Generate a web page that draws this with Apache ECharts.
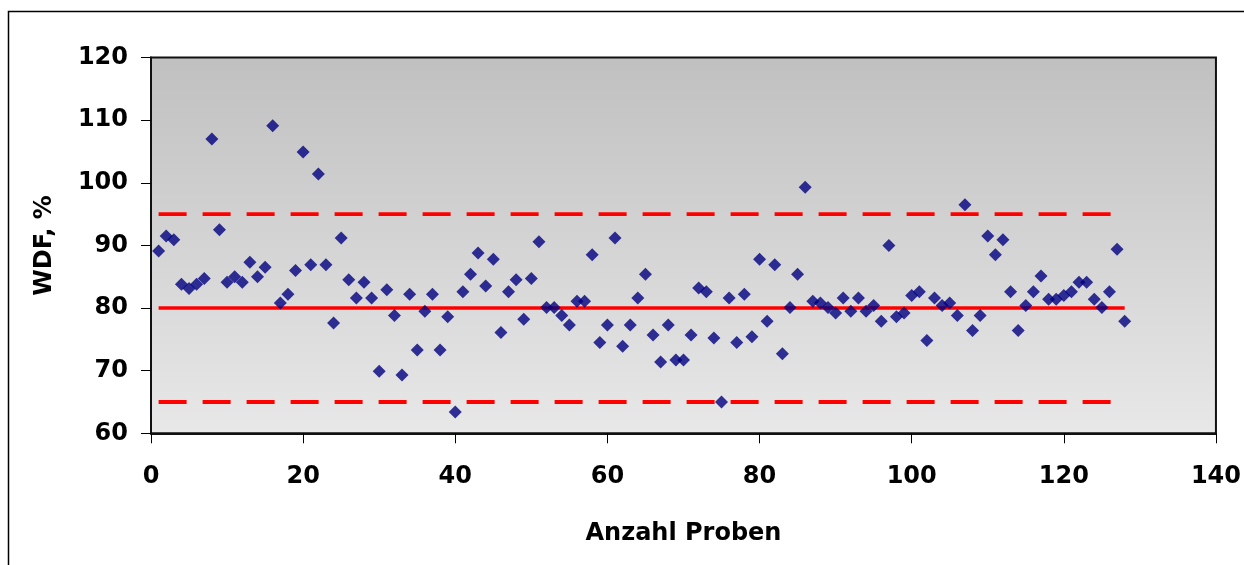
<!DOCTYPE html>
<html>
<head>
<meta charset="utf-8">
<script src="https://cdn.jsdelivr.net/npm/echarts@6/dist/echarts.min.js"></script>
<style>
html,body{margin:0;padding:0;background:#fff;overflow:hidden;}
#chart{width:1244px;height:565px;}
</style>
</head>
<body>
<div id="chart"></div>
<script>
// Sample values (WDF, %) for samples 1..128
var wdfValues = [
  89.1, 91.5, 90.9, 83.8, 83.1, 83.8, 84.7, 107.0, 92.5, 84.1,
  85.0, 84.1, 87.3, 85.0, 86.5, 109.1, 80.8, 82.2, 86.0, 104.9,
  86.9, 101.4, 86.9, 77.6, 91.2, 84.5, 81.6, 84.1, 81.6, 69.9,
  82.9, 78.8, 69.3, 82.2, 73.3, 79.5, 82.2, 73.3, 78.6, 63.4,
  82.6, 85.4, 88.8, 83.5, 87.8, 76.1, 82.6, 84.5, 78.2, 84.7,
  90.6, 80.1, 80.1, 78.8, 77.3, 81.1, 81.1, 88.5, 74.5, 77.3,
  91.2, 73.9, 77.3, 81.6, 85.4, 75.7, 71.4, 77.3, 71.7, 71.7,
  75.7, 83.2, 82.6, 75.2, 65.0, 81.6, 74.5, 82.2, 75.4, 87.8,
  77.9, 86.9, 72.7, 80.1, 85.4, 99.3, 81.1, 80.8, 80.1, 79.2,
  81.6, 79.5, 81.6, 79.5, 80.4, 77.9, 90.0, 78.6, 79.2, 82.0,
  82.6, 74.8, 81.6, 80.4, 80.8, 78.8, 96.5, 76.4, 78.8, 91.5,
  88.5, 90.9, 82.6, 76.4, 80.4, 82.6, 85.1, 81.4, 81.4, 82.0,
  82.6, 84.1, 84.1, 81.4, 80.1, 82.6, 89.4, 77.9
];
// Reference lines: mean and upper / lower limits, spanning first to last sample
var lineRange = [1, 128];
var meanValue = [80];
var limitValues = [95, 65];
var xTicks = [0, 140, 20];   // min, max, interval
var yTicks = [60, 120, 10];  // min, max, interval
var xTitle = 'Anzahl Proben';
var yTitle = 'WDF, %';

var points = wdfValues.map(function (v, i) { return [i + 1, v]; });
function hLine(y) { return [[lineRange[0], y], [lineRange[1], y]]; }

var font = 'DejaVu Sans';
var chart = echarts.init(document.getElementById('chart'), null, {renderer: 'canvas', width: 1244, height: 565});
var series = [];
series.push({
  type: 'line', data: hLine(meanValue[0]), symbol: 'none', silent: true,
  lineStyle: {color: '#ff0000', width: 3.5, type: 'solid'}, z: 2
});
limitValues.forEach(function (l) {
  series.push({
    type: 'line', data: hLine(l), symbol: 'none', silent: true,
    lineStyle: {color: '#ff0000', width: 3.8, type: [28, 16], cap: 'butt'}, z: 2
  });
});
series.push({
  type: 'scatter', data: points, symbol: 'diamond', symbolSize: 13,
  itemStyle: {color: '#000080'}, z: 3
});

chart.setOption({
  animation: false,
  backgroundColor: '#ffffff',
  graphic: [{
    type: 'rect', z: -10,
    shape: {x: 8.5, y: 11.5, width: 1300, height: 620},
    style: {fill: 'none', stroke: '#000', lineWidth: 1.5}
  }],
  grid: {
    left: 151, width: 1070, top: 57.5, bottom: 131.7,
    show: true,
    borderColor: '#111', borderWidth: 2,
    backgroundColor: new echarts.graphic.LinearGradient(0, 0, 0, 1, [
      {offset: 0, color: '#c0c0c0'},
      {offset: 1, color: '#e8e8e8'}
    ])
  },
  xAxis: {
    type: 'value', min: xTicks[0], max: xTicks[1], interval: xTicks[2],
    name: xTitle, nameLocation: 'middle', nameGap: 88,
    nameTextStyle: {fontFamily: font, fontWeight: 'bold', fontSize: 24, color: '#000'},
    axisLine: {show: true, onZero: false, lineStyle: {color: '#111', width: 2}},
    axisTick: {show: true, inside: false, length: 10, lineStyle: {color: '#000', width: 1}},
    axisLabel: {margin: 31, fontFamily: font, fontWeight: 'bold', fontSize: 24, color: '#000'},
    splitLine: {show: false}
  },
  yAxis: {
    type: 'value', min: yTicks[0], max: yTicks[1], interval: yTicks[2],
    name: yTitle, nameLocation: 'middle', nameGap: 94,
    nameTextStyle: {fontFamily: font, fontWeight: 'bold', fontSize: 24, color: '#000'},
    axisLine: {show: true, onZero: false, lineStyle: {color: '#111', width: 2}},
    axisTick: {show: true, inside: false, length: 10, lineStyle: {color: '#000', width: 1}},
    axisLabel: {margin: 23, fontFamily: font, fontWeight: 'bold', fontSize: 24, color: '#000'},
    splitLine: {show: false}
  },
  series: series
});
</script>
</body>
</html>
